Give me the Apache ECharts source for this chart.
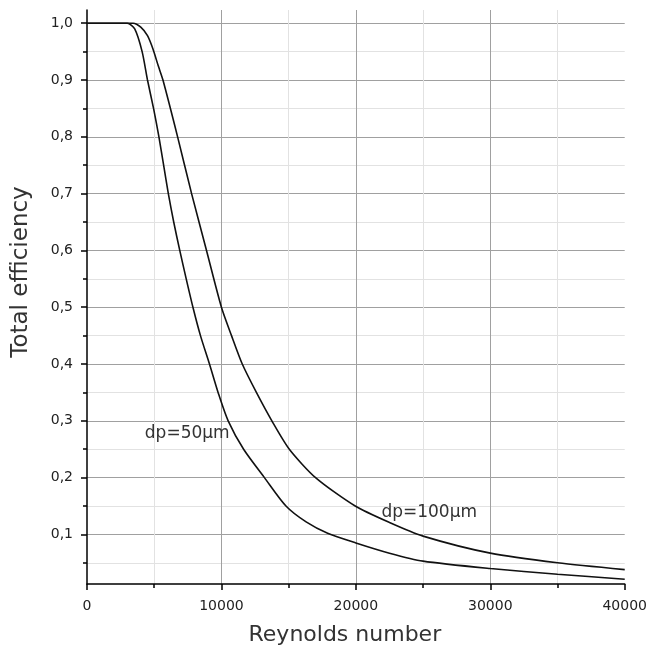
<!DOCTYPE html>
<html>
<head>
<meta charset="utf-8">
<title>Total efficiency vs Reynolds number</title>
<script src="https://cdn.jsdelivr.net/npm/echarts@6/dist/echarts.min.js"></script>
<style>
  html, body { margin: 0; padding: 0; background: #fff; }
  #chart { width: 650px; height: 660px; }
</style>
</head>
<body>
<div id="chart"></div>
<script>
// curve dp=50µm
const re50 = [0, 3000, 3550, 4100, 4500, 4950, 5350, 5700, 6050, 6450, 6900, 7380, 7880, 8440, 9110, 9750, 10500, 11650, 13200, 14800, 16300, 17900, 20000, 22500, 25000, 30000, 35000, 40000];
const eff50 = [1.0, 1.0, 0.99, 0.95, 0.9, 0.85, 0.8, 0.75, 0.7, 0.65, 0.6, 0.55, 0.5, 0.45, 0.4, 0.35, 0.3, 0.25, 0.2, 0.15, 0.122, 0.102, 0.085, 0.067, 0.053, 0.04, 0.03, 0.021];

// curve dp=100µm
const re100 = [0, 3430, 4000, 4500, 4900, 5300, 5650, 6740, 7780, 8890, 10000, 10750, 11550, 12600, 13750, 15050, 17000, 19950, 22500, 25000, 30000, 35000, 40000];
const eff100 = [1.0, 1.0, 0.993, 0.978, 0.955, 0.925, 0.9, 0.8, 0.7, 0.6, 0.5, 0.45, 0.4, 0.35, 0.3, 0.25, 0.2, 0.15, 0.121, 0.097, 0.067, 0.05, 0.038];

// y ticks
const yMajor = [0.1, 0.2, 0.3, 0.4, 0.5, 0.6, 0.7, 0.8, 0.9, 1.0];
const yMinor = [0.05, 0.15, 0.25, 0.35, 0.45, 0.55, 0.65, 0.75, 0.85, 0.95];

const yMin = 0.0127;
const yMax = 1.0233;

const chart = echarts.init(document.getElementById('chart'), null, { renderer: 'canvas' });

const font = 'DejaVu Sans';
const zip = (xs, ys) => xs.map((x, i) => [x, ys[i]]);

const curveStyle = { color: '#111', width: 1.6 };

const option = {
  backgroundColor: '#fff',
  animation: false,
  grid: { left: 87, right: 22, top: 10, bottom: 76 },
  xAxis: {
    type: 'value',
    min: 0,
    max: 40000,
    interval: 10000,
    name: 'Reynolds number',
    nameLocation: 'middle',
    nameGap: 40,
    nameTextStyle: { fontFamily: font, fontSize: 22, color: '#333', padding: [0, 22, 0, 0] },
    axisLine: { lineStyle: { color: '#000', width: 1.5 } },
    axisTick: { length: 6, lineStyle: { color: '#000', width: 1.5 } },
    minorTick: { show: true, splitNumber: 2, length: 4, lineStyle: { color: '#000', width: 1.5 } },
    axisLabel: { fontFamily: font, fontSize: 14, color: '#222', margin: 15, formatter: v => String(v) },
    splitLine: { show: true, showMinLine: false, showMaxLine: false, lineStyle: { color: '#a0a0a0', width: 1 } },
    minorSplitLine: { show: true, lineStyle: { color: '#e2e2e2', width: 1 } }
  },
  yAxis: [
    {
      type: 'value',
      min: yMin,
      max: yMax,
      name: 'Total efficiency',
      nameLocation: 'middle',
      nameGap: 54,
      nameTextStyle: { fontFamily: font, fontSize: 23, color: '#333', padding: [0, 0, 0, 50] },
      axisLine: { lineStyle: { color: '#000', width: 1.5 } },
      axisTick: { customValues: yMajor, length: 6, lineStyle: { color: '#000', width: 1.5 } },
      axisLabel: {
        customValues: yMajor,
        fontFamily: font, fontSize: 14, color: '#222', margin: 14,
        formatter: v => v.toFixed(1).replace('.', ',')
      },
      splitLine: { show: true, lineStyle: { color: '#a0a0a0', width: 1 } }
    },
    {
      type: 'value',
      min: yMin,
      max: yMax,
      position: 'left',
      axisLine: { show: false },
      axisTick: { show: true, customValues: yMinor, length: 4, lineStyle: { color: '#000', width: 1.5 } },
      axisLabel: { show: false },
      splitLine: { show: true, lineStyle: { color: '#e2e2e2', width: 1 } }
    }
  ],
  series: [
    {
      name: 'dp=50µm',
      type: 'line',
      data: zip(re50, eff50),
      showSymbol: false,
      smooth: 0.25,
      lineStyle: curveStyle,
      z: 5,
      markPoint: {
        symbol: 'circle',
        symbolSize: 0,
        silent: true,
        label: {
          show: true, position: 'right', distance: 0,
          fontFamily: font, fontSize: 17, color: '#333',
          formatter: 'dp=50µm'
        },
        data: [{ coord: [4300, 0.277] }]
      }
    },
    {
      name: 'dp=100µm',
      type: 'line',
      data: zip(re100, eff100),
      showSymbol: false,
      smooth: 0.25,
      lineStyle: curveStyle,
      z: 5,
      markPoint: {
        symbol: 'circle',
        symbolSize: 0,
        silent: true,
        label: {
          show: true, position: 'right', distance: 0,
          fontFamily: font, fontSize: 17, color: '#333',
          formatter: 'dp=100µm'
        },
        data: [{ coord: [21900, 0.138] }]
      }
    }
  ]
};

chart.setOption(option);
</script>
</body>
</html>
